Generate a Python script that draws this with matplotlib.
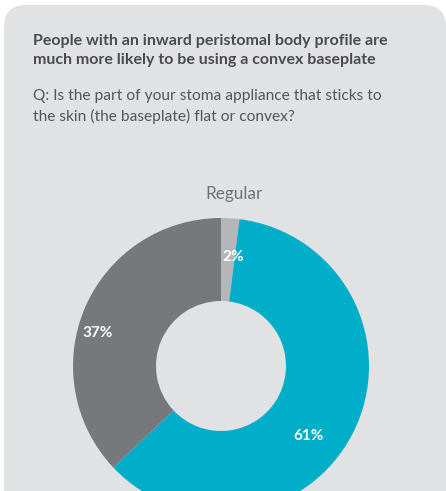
import matplotlib
matplotlib.use("Agg")
import matplotlib.pyplot as plt
import numpy as np
from matplotlib.patches import FancyBboxPatch

# Baseplate type among people with an inward peristomal profile
categories = ["Regular", "Convex", "Don't know"]
shares = [2, 61, 37]
colors = ["#b5b6b9", "#00aec9", "#77787b"]
# where each percentage sits on the ring (degrees, fraction of radius)
label_angle = [83.7, -38.8, 165.0]
label_radius = [0.74, 0.76, 0.865]

title = ("People with an inward peristomal body profile are\n"
         "much more likely to be using a convex baseplate")
question = ("Q: Is the part of your stoma appliance that sticks to\n"
            "the skin (the baseplate) flat or convex?")

plt.rcParams["font.family"] = ["Lato", "DejaVu Sans"]

W, H = 446, 491
fig = plt.figure(figsize=(W / 100, H / 100), dpi=100)
fig.patch.set_facecolor("white")

# rounded grey card behind everything (sizes in pixels)
card = FancyBboxPatch((4, -40), W - 4, H - 5 + 40,
                      boxstyle="round,pad=0,rounding_size=22",
                      transform=None, facecolor="#e1e2e4",
                      edgecolor="none", zorder=-5)
fig.patches.append(card)

fig.text(33 / W, 1 - 34 / H, title, ha="left", va="top", fontsize=11.5,
         fontweight="bold", color="#4b4b4d", linespacing=1.45)
fig.text(33 / W, 1 - 89 / H, question, ha="left", va="top", fontsize=11.2,
         color="#555557", linespacing=1.48)
fig.text(234 / W, 1 - 186 / H, categories[0], ha="center", va="top",
         fontsize=12.3, color="#707173")

# donut, centre at (221, 366) px, outer radius 148 px
cx, cy, r = 221, 366, 148
ax = fig.add_axes([(cx - r) / W, (H - cy - r) / H, 2 * r / W, 2 * r / H])
ax.pie(shares, colors=colors, startangle=90, counterclock=False,
       radius=1, wedgeprops=dict(width=1 - 65 / 148, edgecolor="none"))
for s, a, rr in zip(shares, label_angle, label_radius):
    t = np.deg2rad(a)
    ax.text(rr * np.cos(t), rr * np.sin(t), f"{s}%", ha="center", va="center",
            fontsize=11, fontweight="bold", color="white")
ax.set_xlim(-1, 1)
ax.set_ylim(-1, 1)
ax.set_aspect("equal")
ax.axis("off")
for p in ax.patches:
    p.set_clip_on(False)

fig.savefig("out.png", dpi=100)
